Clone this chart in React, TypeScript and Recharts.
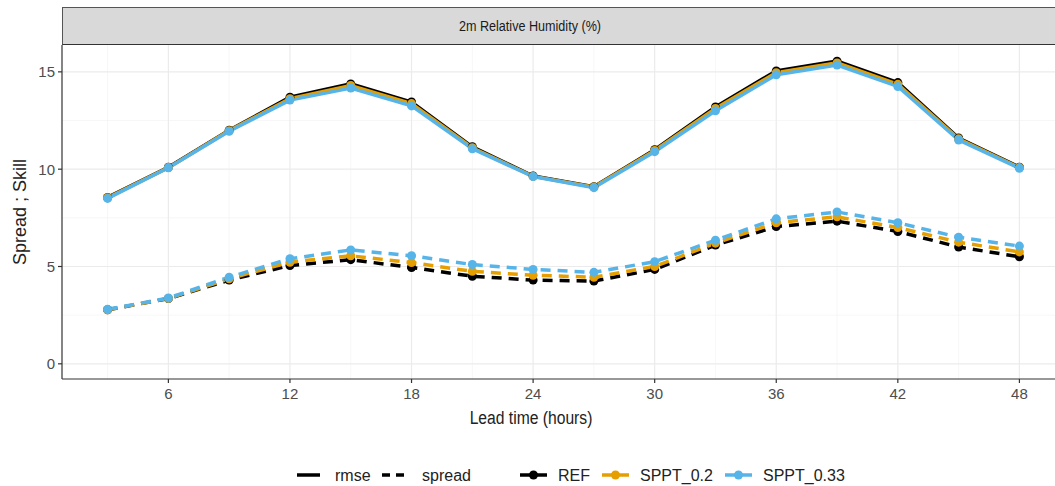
import React from 'react'
import { LineChart, Line, XAxis, YAxis, CartesianGrid } from 'recharts'

// lead times (hours)
const leadTimes = [3, 6, 9, 12, 15, 18, 21, 24, 27, 30, 33, 36, 39, 42, 45, 48]

// rmse (solid lines)
const refRmse = [8.55, 10.1, 12.0, 13.7, 14.38, 13.45, 11.15, 9.65, 9.1, 11.0, 13.2, 15.05, 15.55, 14.45, 11.6, 10.1]
const sppt02Rmse = [8.53, 10.08, 11.98, 13.62, 14.3, 13.37, 11.1, 9.63, 9.08, 10.96, 13.12, 14.96, 15.46, 14.36, 11.56, 10.08]
const sppt033Rmse = [8.5, 10.07, 11.95, 13.55, 14.17, 13.25, 11.05, 9.62, 9.05, 10.9, 13.0, 14.85, 15.35, 14.25, 11.5, 10.05]

// spread (dashed lines)
const refSpread = [2.78, 3.35, 4.3, 5.05, 5.35, 4.95, 4.5, 4.3, 4.25, 4.85, 6.1, 7.05, 7.33, 6.8, 6.0, 5.5]
const sppt02Spread = [2.78, 3.36, 4.37, 5.22, 5.55, 5.2, 4.75, 4.55, 4.45, 5.0, 6.2, 7.25, 7.55, 7.0, 6.25, 5.75]
const sppt033Spread = [2.8, 3.38, 4.45, 5.4, 5.85, 5.55, 5.1, 4.85, 4.7, 5.25, 6.35, 7.45, 7.8, 7.25, 6.5, 6.05]

const xTicks = [6, 12, 18, 24, 30, 36, 42, 48]
const xMinor = [3, 9, 15, 21, 27, 33, 39, 45]
const yTicks = [0, 5, 10, 15]
const yMinor = [2.5, 7.5, 12.5]

const seriesNames = ['REF', 'SPPT_0.2', 'SPPT_0.33']
const seriesColors = ['#000000', '#E69F00', '#56B4E9']
const rmseSets = [refRmse, sppt02Rmse, sppt033Rmse]
const spreadSets = [refSpread, sppt02Spread, sppt033Spread]

const data = leadTimes.map((lead, i) => {
  const row: Record<string, number> = { lead }
  seriesNames.forEach((name, s) => {
    row[`${name}_rmse`] = rmseSets[s][i]
    row[`${name}_spread`] = spreadSets[s][i]
  })
  return row
})

const FONT = '"Liberation Sans", Arial, Helvetica, sans-serif'
const tickStyle = { fill: '#4d4d4d', fontSize: 15, fontFamily: FONT }

function Legend() {
  const y = 475
  return (
    <svg width={1055} height={30} style={{ position: 'absolute', left: 0, top: y - 15 }}>
      <g fontFamily={FONT} fontSize={16} fill="#222">
        <line x1={297} x2={320} y1={15} y2={15} stroke="#000" strokeWidth={3.5} />
        <text x={335} y={20.5}>rmse</text>
        <line x1={382} x2={408} y1={15} y2={15} stroke="#000" strokeWidth={3.5} strokeDasharray="8 6" />
        <text x={422} y={20.5}>spread</text>
        {seriesNames.map((name, s) => {
          const x0 = [520, 602, 725][s]
          return (
            <g key={name}>
              <line x1={x0} x2={x0 + 27} y1={15} y2={15} stroke={seriesColors[s]} strokeWidth={3.5} />
              <circle cx={x0 + 13.5} cy={15} r={4.5} fill={seriesColors[s]} />
              <text x={x0 + 38} y={20.5}>{name}</text>
            </g>
          )
        })}
      </g>
    </svg>
  )
}

export default function App() {
  return (
    <div style={{ position: 'fixed', left: 0, top: 0, width: 1055, height: 486, overflow: 'hidden', background: '#fff' }}>
      <LineChart width={1080} height={486} data={data} margin={{ top: 45, right: 15, bottom: 77, left: 0 }}>
        <CartesianGrid verticalValues={xMinor} horizontalValues={yMinor} stroke="#f2f2f2" strokeWidth={0.6} />
        <CartesianGrid verticalValues={xTicks} horizontalValues={yTicks} stroke="#ebebeb" strokeWidth={1.2} />
        <XAxis
          dataKey="lead"
          type="number"
          domain={[0.75, 50.25]}
          ticks={xTicks}
          allowDataOverflow
          height={30}
          tick={tickStyle}
          tickSize={4}
          tickMargin={5}
          axisLine={{ stroke: '#333', strokeWidth: 1.2 }}
          tickLine={{ stroke: '#333', strokeWidth: 1.2 }}
        />
        <YAxis
          type="number"
          domain={[-0.78, 16.38]}
          ticks={yTicks}
          allowDataOverflow
          width={62}
          tick={tickStyle}
          tickSize={4}
          tickMargin={3}
          axisLine={{ stroke: '#333', strokeWidth: 1.2 }}
          tickLine={{ stroke: '#333', strokeWidth: 1.2 }}
        />
        {seriesNames.flatMap((name, s) => [
          <Line
            key={`${name}_rmse`}
            dataKey={`${name}_rmse`}
            type="linear"
            stroke={seriesColors[s]}
            strokeWidth={3.5}
            dot={{ r: 4.5, fill: seriesColors[s], stroke: 'none' }}
            activeDot={false}
            isAnimationActive={false}
          />,
          <Line
            key={`${name}_spread`}
            dataKey={`${name}_spread`}
            type="linear"
            stroke={seriesColors[s]}
            strokeWidth={3.5}
            strokeDasharray="10 7"
            dot={{ r: 4.5, fill: seriesColors[s], stroke: 'none', strokeDasharray: '0' }}
            activeDot={false}
            isAnimationActive={false}
          />,
        ])}
      </LineChart>

      {/* facet strip */}
      <div
        style={{
          position: 'absolute', left: 62, top: 7, width: 1010, height: 36,
          background: '#d9d9d9', borderTop: '1px solid #555', borderLeft: '1px solid #555', borderBottom: '1.5px solid #333',
        }}
      />
      <div
        style={{
          position: 'absolute', left: 530, top: 26, transform: 'translate(-50%, -50%) scaleX(0.9)',
          fontFamily: FONT, fontSize: 14, color: '#1a1a1a', whiteSpace: 'nowrap',
        }}
      >
        2m Relative Humidity (%)
      </div>

      {/* axis titles */}
      <div
        style={{
          position: 'absolute', left: 531, top: 418, transform: 'translate(-50%, -50%) scaleX(0.87)',
          fontFamily: FONT, fontSize: 18, color: '#222', whiteSpace: 'nowrap',
        }}
      >
        Lead time (hours)
      </div>
      <div
        style={{
          position: 'absolute', left: 20, top: 212, transform: 'translate(-50%, -50%) rotate(-90deg)',
          fontFamily: FONT, fontSize: 18, color: '#222', whiteSpace: 'nowrap',
        }}
      >
        Spread ; Skill
      </div>

      <Legend />
    </div>
  )
}
